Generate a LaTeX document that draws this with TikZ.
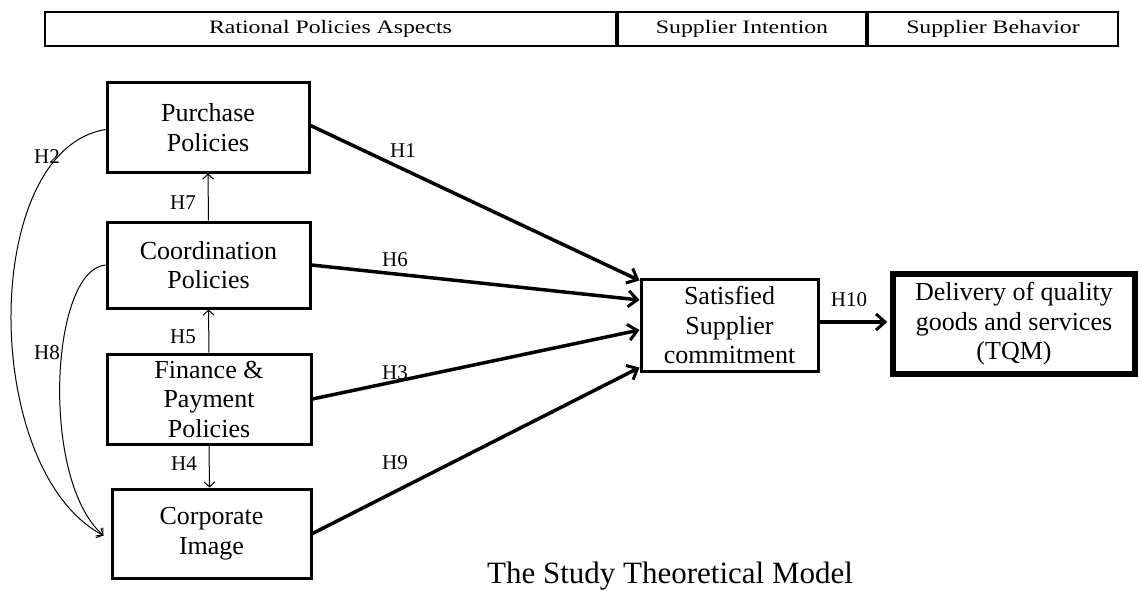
\documentclass[tikz,border=0pt]{standalone}
\usepackage{fontspec}
\setmainfont{Liberation Serif}
\newfontfamily\hdrfont[FakeStretch=1.25]{Liberation Serif}
\usetikzlibrary{arrows.meta,calc}
\begin{document}
\begin{tikzpicture}[x=1pt,y=-1pt,
  hdr/.style={draw,line width=1.3pt,inner sep=0pt,font=\hdrfont\fontsize{19}{22}\selectfont},
  box/.style={draw,line width=3pt,inner sep=0pt,align=center,font=\fontsize{26}{29.5}\selectfont},
  big/.style={-{Straight Barb[length=9pt,width=16pt,line width=3pt]},line width=3.5pt},
  thin/.style={-{Straight Barb[length=5pt,width=11pt]},line width=1pt},
  lab/.style={font=\fontsize{21}{24}\selectfont,inner sep=0pt}]
\useasboundingbox (0,0) rectangle (1140,591);
% header
\node[hdr,minimum width=571pt,minimum height=34pt] (h1) at (330.5,29) {Rational Policies Aspects};
\node[hdr,minimum width=248pt,minimum height=34pt] (h2) at (742,29) {Supplier Intention};
\node[hdr,minimum width=250pt,minimum height=34pt] (h3) at (993,29) {Supplier Behavior};
% boxes
\node[box,minimum width=202pt,minimum height=89pt] (pp) at (208,127.5) {Purchase\\Policies};
\node[box,minimum width=203pt,minimum height=86pt] (cp) at (208.5,265) {Coordination\\Policies};
\node[box,minimum width=204pt,minimum height=90pt] (fp) at (209,399) {Finance \&\\Payment\\Policies};
\node[box,minimum width=199pt,minimum height=89pt] (ci) at (211.5,533.5) {Corporate\\Image};
\node[box,minimum width=177pt,minimum height=92pt] (ss) at (729.5,325) {Satisfied\\Supplier\\commitment};
\node[box,line width=5.5pt,minimum width=242pt,minimum height=100pt] (dq) at (1014,324) {Delivery of quality\\goods and services\\(TQM)};
% thick arrows
\coordinate (t1) at ($(ss.north west)+(0,3)$);
\coordinate (t6) at ($(ss.west)+(0,-25)$);
\coordinate (t3) at ($(ss.west)+(0,5)$);
\coordinate (t9) at ($(ss.south west)+(0,-5)$);
\draw[big] ($(pp.east)+(0,-2)$) -- (t1);
\draw[big] (cp.east) -- (t6);
\draw[big] (fp.east) -- (t3);
\draw[big] (ci.east) -- (t9);
\draw[big] ($(ss.east)+(0,-3)$) -- ($(dq.west)+(-3,-2)$);
% thin vertical arrows
\draw[thin] (cp.north) -- (pp.south);
\draw[thin] (fp.north) -- (cp.south);
\draw[thin] (fp.south) -- ($(ci.north)+(-2,0)$);
% curves
\coordinate (ce) at ($(ci.west)+(-7,2)$);
\draw[thin] ($(pp.west)+(0,2)$) .. controls (-20,150) and (-20,470) .. (ce);
\draw[thin] (cp.west) .. controls (50,270) and (40,480) .. (ce);
% labels
\node[lab] (l1) at (403,151) {H1};
\node[lab] (l6) at (395,260) {H6};
\node[lab] (l3) at (395,373) {H3};
\node[lab] (l9) at (395,463) {H9};
\node[lab] (l10) at (849,300) {H10};
\node[lab] (l7) at (183,203) {H7};
\node[lab] (l5) at (183,337) {H5};
\node[lab] (l4) at (184,464) {H4};
\node[lab] (l2) at (47,157) {H2};
\node[lab] (l8) at (47,353) {H8};
\node[font=\fontsize{31}{36}\selectfont,anchor=base,inner sep=0pt] (title) at (670,583) {The Study Theoretical Model};
\end{tikzpicture}
\end{document}
